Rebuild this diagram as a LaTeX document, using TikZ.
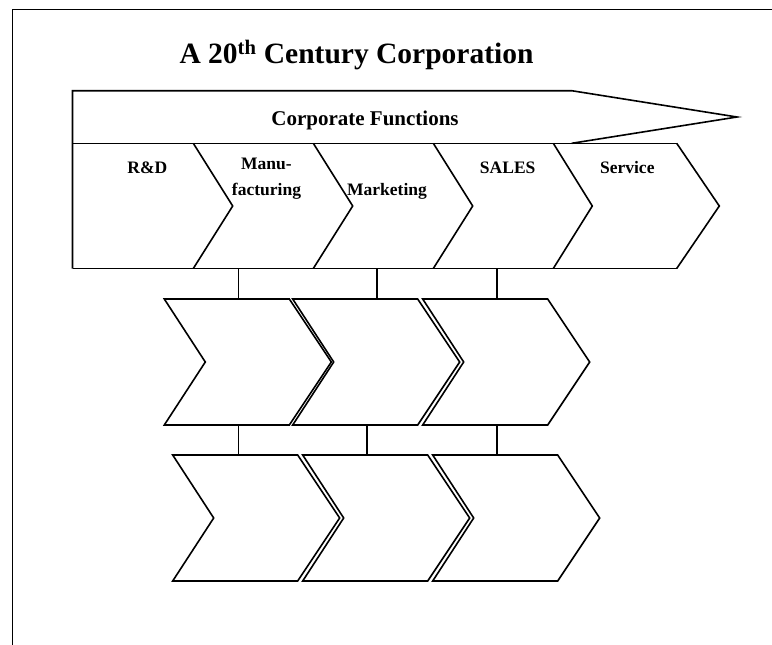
\documentclass[tikz,border=0pt]{standalone}
\usepackage{fontspec}
\setmainfont{Liberation Serif}
\tikzset{
  ln/.style={line width=1.6pt, line join=miter, line cap=butt},
  lbl/.style={font=\bfseries\fontsize{17.5}{25.7}\selectfont, anchor=base, inner sep=0pt, align=center},
}
% chevron: #1 = left x, #2 = top y, #3 = name
\newcommand\mychevron[3]{%
  \draw[ln] (#1,#2) coordinate (#3-tl) -- ++(125,0) coordinate (#3-tr)
    -- ++(42,63) coordinate (#3-pt) -- ++(-42,63) coordinate (#3-br)
    -- ++(-125,0) coordinate (#3-bl) -- ++(41,-63) coordinate (#3-nt) -- cycle;
}
\begin{document}
\begin{tikzpicture}[x=1pt,y=-1pt]
\useasboundingbox (0,0) rectangle (772,645);
% frame (left and top edges only)
\draw[ln] (12.3,645) -- (12.3,9.3) -- (772,9.3);
% title
\node[font=\bfseries\fontsize{29.5}{34}\selectfont, anchor=base west, inner sep=0pt] (title) at (179.3,63.3) {A 20\textsuperscript{th} Century Corporation};
% header arrow
\draw[ln] (72.5,268.5) -- (72.5,90.7) -- (571.7,90.7) -- (737,117) -- (571.7,143.3);
\draw[ln] (72.5,143.3) -- (676.7,143.3);
\draw[ln] (72.5,268.5) -- (676.7,268.5);
\node[font=\bfseries\fontsize{21}{25}\selectfont, anchor=base, inner sep=0pt] (cf) at (365,125) {Corporate Functions};
% function boundaries
\foreach \xa/\xb in {193.3/232.7, 313.3/352.7, 433.3/472.7, 553.3/592.3, 676.7/719.3}{
  \draw[ln] (\xa,143.3) -- (\xb,206) -- (\xa,268.5);
}
% function labels
\node[lbl] (rd) at (147.3,173.3) {R\&D};
\node[lbl] (manu) at (266.5,195) {Manu-\\facturing};
\node[lbl] (mkt) at (387,195) {Marketing};
\node[lbl] (sales) at (507.7,173.3) {SALES};
\node[lbl] (serv) at (627.3,173.3) {Service};
% header attachment points
\coordinate (h1) at (238.3,268.5);
\coordinate (h2) at (376.7,268.5);
\coordinate (h3) at (496.7,268.5);
% row 1
\mychevron{164.3}{299}{a}
\mychevron{292.7}{299}{b}
\mychevron{422.7}{299}{c}
% row 2
\mychevron{172.7}{455}{d}
\mychevron{302.7}{455}{e}
\mychevron{432.7}{455}{f}
% connection points
\coordinate (a1) at (238.3,299);
\coordinate (b1) at (376.7,299);
\coordinate (c1) at (496.7,299);
\coordinate (a2) at (238.3,425);
\coordinate (b2) at (366.7,425);
\coordinate (c2) at (496.7,425);
\coordinate (d1) at (238.3,455);
\coordinate (e1) at (366.7,455);
\coordinate (f1) at (496.7,455);
\draw[ln] (h1) -- (a1);
\draw[ln] (h2) -- (b1);
\draw[ln] (h3) -- (c1);
\draw[ln] (a2) -- (d1);
\draw[ln] (b2) -- (e1);
\draw[ln] (c2) -- (f1);
\end{tikzpicture}
\end{document}
